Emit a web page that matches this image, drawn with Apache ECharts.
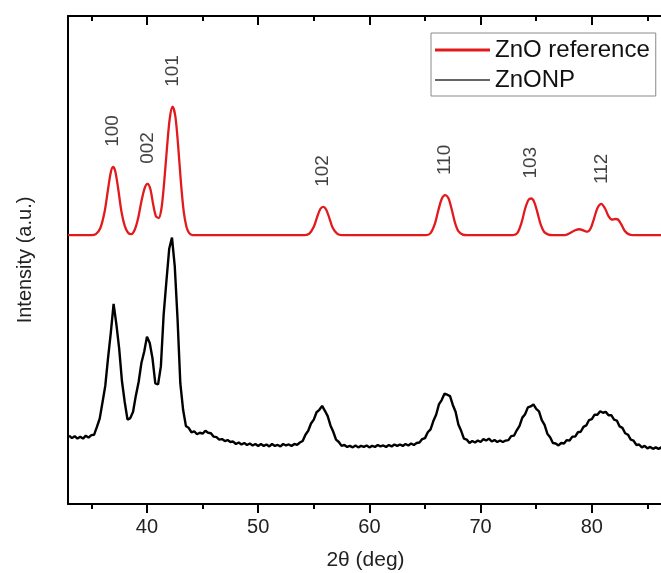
<!DOCTYPE html>
<html>
<head>
<meta charset="utf-8">
<script src="https://cdn.jsdelivr.net/npm/echarts@6/dist/echarts.min.js"></script>
<style>html,body{margin:0;padding:0;background:#fff}#c{width:661px;height:573px}</style>
</head>
<body>
<div id="c"></div>
<script>
// ---- data ----
const seriesNames = ['ZnO reference', 'ZnONP'];
const xMajorTicks = [40, 50, 60, 70, 80];
const xMinorTicks = [35, 45, 55, 65, 75, 85];

// ZnO reference pattern (red), [2θ, intensity]
const znoReference = [
  [32.9,55.1],[35.0,55.1],[35.4,55.3],[35.8,56.5],[36.2,60.0],[36.5,64.5],[36.75,68.0],[36.95,69.1],[37.15,68.2],[37.4,64.8],[37.7,60.0],[38.0,57.0],[38.3,55.6],[38.6,55.3],[38.9,56.2],[39.2,58.5],[39.5,62.0],[39.8,64.8],[40.05,65.6],[40.3,64.6],[40.55,61.5],[40.8,59.0],[41.05,58.6],[41.3,60.5],[41.55,66.0],[41.8,73.0],[42.05,79.0],[42.3,81.4],[42.55,79.5],[42.8,73.5],[43.05,66.0],[43.3,60.0],[43.55,56.8],[43.8,55.5],[44.1,55.1],
  [54.2,55.1],[54.6,55.4],[55.0,56.8],[55.3,58.8],[55.6,60.5],[55.85,60.9],[56.1,60.4],[56.4,58.6],[56.7,56.6],[57.1,55.4],[57.5,55.1],
  [65.1,55.1],[65.5,55.5],[65.9,57.5],[66.2,60.2],[66.5,62.5],[66.8,63.3],[67.1,62.7],[67.4,60.4],[67.7,57.6],[68.0,55.9],[68.4,55.2],[68.8,55.1],
  [72.9,55.1],[73.3,55.5],[73.7,57.8],[74.0,60.5],[74.3,62.3],[74.55,62.6],[74.8,62.0],[75.1,59.8],[75.4,57.3],[75.7,55.8],[76.1,55.2],[76.5,55.1],
  [77.6,55.1],[78.1,55.6],[78.5,56.1],[78.9,56.3],[79.3,56.0],[79.6,55.8],[79.9,56.5],[80.2,58.5],[80.5,60.6],[80.85,61.5],[81.2,60.5],[81.5,59.0],[81.8,58.3],[82.1,58.4],[82.35,58.3],[82.65,57.3],[82.95,56.0],[83.3,55.3],[83.7,55.1],[86.5,55.1]
];

// Measured ZnONP pattern (black), [2θ, intensity]
const znoNP = [
  [33.00,14.0],[33.25,13.5],[33.50,13.9],[33.75,13.4],[34.00,13.8],[34.25,13.4],[34.50,14.0],[34.75,13.6],[35.00,14.1],[35.25,14.2],
  [35.50,15.8],[35.75,17.5],[36.00,20.8],[36.25,24.2],[36.50,29.9],[36.75,35.1],[37.00,41.0],[37.25,36.8],[37.50,31.9],[37.75,25.2],
  [38.00,20.9],[38.25,17.3],[38.50,17.6],[38.75,18.9],[39.00,22.2],[39.25,25.0],[39.50,28.9],[39.75,31.2],[40.00,34.3],[40.25,33.0],
  [40.50,29.8],[40.75,24.7],[41.00,24.5],[41.25,28.2],[41.50,38.8],[41.75,45.7],[42.00,52.3],[42.25,54.6],[42.50,48.7],[42.75,37.9],
  [43.00,24.7],[43.25,19.3],[43.50,16.0],[43.75,15.6],[44.00,14.7],[44.25,14.9],[44.50,14.3],[44.75,14.6],[45.00,14.4],[45.25,15.0],
  [45.50,14.6],[45.75,14.5],[46.00,13.8],[46.25,13.7],[46.50,13.2],[46.75,13.3],[47.00,12.9],[47.25,13.1],[47.50,12.7],[47.75,12.8],
  [48.00,12.3],[48.25,12.6],[48.50,12.2],[48.75,12.5],[49.00,12.1],[49.25,12.4],[49.50,12.0],[49.75,12.3],[50.00,11.9],[50.25,12.3],
  [50.50,11.9],[50.75,12.2],[51.00,11.8],[51.25,12.3],[51.50,11.9],[51.75,12.1],[52.00,11.8],[52.25,12.3],[52.50,12.0],[52.75,12.2],
  [53.00,11.9],[53.25,12.3],[53.50,12.1],[53.75,12.6],[54.00,12.9],[54.25,14.2],[54.50,15.0],[54.75,16.5],[55.00,17.3],[55.25,18.8],
  [55.50,19.3],[55.75,20.1],[56.00,19.1],[56.25,18.0],[56.50,16.1],[56.75,14.8],[57.00,13.2],[57.25,12.7],[57.50,11.9],[57.75,12.1],
  [58.00,11.7],[58.25,11.9],[58.50,11.6],[58.75,12.0],[59.00,11.6],[59.25,11.9],[59.50,11.7],[59.75,12.0],[60.00,11.6],[60.25,11.9],
  [60.50,11.7],[60.75,12.1],[61.00,11.8],[61.25,12.0],[61.50,11.7],[61.75,12.1],[62.00,11.8],[62.25,12.2],[62.50,11.9],[62.75,12.2],
  [63.00,11.9],[63.25,12.3],[63.50,12.0],[63.75,12.4],[64.00,12.1],[64.25,12.5],[64.50,12.6],[64.75,13.3],[65.00,13.5],[65.25,14.7],
  [65.50,15.3],[65.75,17.0],[66.00,18.3],[66.25,20.4],[66.50,21.3],[66.75,22.6],[67.00,22.4],[67.25,22.1],[67.50,20.3],[67.75,18.9],
  [68.00,16.3],[68.25,15.0],[68.50,13.4],[68.75,13.2],[69.00,12.5],[69.25,12.9],[69.50,12.6],[69.75,13.0],[70.00,12.7],[70.25,13.3],
  [70.50,13.0],[70.75,13.4],[71.00,12.8],[71.25,13.1],[71.50,12.7],[71.75,13.0],[72.00,12.7],[72.25,13.0],[72.50,13.1],[72.75,13.9],
  [73.00,14.0],[73.25,15.1],[73.50,16.0],[73.75,17.7],[74.00,18.4],[74.25,19.8],[74.50,20.0],[74.75,20.4],[75.00,19.5],[75.25,19.0],
  [75.50,17.2],[75.75,16.2],[76.00,14.4],[76.25,13.7],[76.50,12.5],[76.75,12.4],[77.00,12.0],[77.25,12.5],[77.50,12.4],[77.75,13.1],
  [78.00,13.0],[78.25,13.8],[78.50,13.8],[78.75,14.7],[79.00,14.8],[79.25,15.8],[79.50,16.1],[79.75,17.2],[80.00,17.4],[80.25,18.3],
  [80.50,18.3],[80.75,19.0],[81.00,18.7],[81.25,18.9],[81.50,18.2],[81.75,18.2],[82.00,17.3],[82.25,17.1],[82.50,15.9],[82.75,15.6],
  [83.00,14.5],[83.25,14.2],[83.50,13.2],[83.75,13.0],[84.00,12.1],[84.25,12.2],[84.50,11.6],[84.75,11.9],[85.00,11.4],[85.25,11.7],
  [85.50,11.3],[85.75,11.6],[86.00,11.3],[86.25,11.6],[86.50,11.4]
];

// Miller-index labels above the reference peaks: [label, 2θ, peak intensity]
const peakLabels = [
  ['100', 36.95, 69.1], ['002', 40.05, 65.6], ['101', 42.3, 81.4],
  ['102', 55.85, 60.9], ['110', 66.8, 63.3], ['103', 74.55, 62.6], ['112', 80.85, 61.5]
];

// ---- chart ----
const FONT = "'Liberation Sans', Arial, Helvetica, sans-serif";
const X_MIN = 32.9, X_MAX = 86.4;
const chart = echarts.init(document.getElementById('c'), null, {renderer: 'canvas'});

function xAx(pos, ticks, len, inside, showLine, showLabel) {
  return {
    type: 'value', gridIndex: 0, position: pos, min: X_MIN, max: X_MAX,
    axisLine: {show: showLine, onZero: false, lineStyle: {color: '#000', width: 2}},
    axisTick: {show: true, customValues: ticks, length: len, inside: inside, lineStyle: {color: '#000', width: 2}},
    axisLabel: showLabel ? {show: true, customValues: ticks, fontSize: 20, color: '#222', fontFamily: FONT, margin: 13} : {show: false},
    splitLine: {show: false}
  };
}

const bottomMajor = xAx('bottom', xMajorTicks, 9, false, true, true);
bottomMajor.name = '2θ (deg)';
bottomMajor.nameLocation = 'middle';
bottomMajor.nameGap = 46;
bottomMajor.nameTextStyle = {fontSize: 21, color: '#222', fontFamily: FONT};

// legend glyphs: a plain horizontal stroke (corner points fix the 55x14 box)
const ICON_RED = 'path://M0,0L0,0ZM55,14L55,14ZM0,5.5L55,5.5L55,8.5L0,8.5Z';
const ICON_BLACK = 'path://M0,0L0,0ZM55,14L55,14ZM0,6.2L55,6.2L55,7.8L0,7.8Z';

const option = {
  animation: false,
  backgroundColor: '#fff',
  grid: {left: 68, right: -2, top: 16, bottom: 69, containLabel: false, outerBoundsMode: 'none'},
  xAxis: [
    bottomMajor,
    xAx('bottom', xMinorTicks, 5, false, false, false),
    xAx('top', xMajorTicks, 9, true, true, false),
    xAx('top', xMinorTicks, 5, true, false, false)
  ],
  yAxis: {
    type: 'value', min: 0, max: 100, position: 'left',
    axisLine: {show: true, onZero: false, lineStyle: {color: '#000', width: 2}},
    axisTick: {show: false}, axisLabel: {show: false}, splitLine: {show: false},
    name: 'Intensity (a.u.)', nameLocation: 'middle', nameGap: 33,
    nameTextStyle: {fontSize: 20, color: '#222', fontFamily: FONT}
  },
  legend: {
    orient: 'vertical', left: 431, top: 33,
    itemWidth: 55, itemHeight: 14, itemGap: 6,
    padding: [5, 6, 4, 4],
    borderColor: '#8a8a8a', borderWidth: 1, backgroundColor: '#fff',
    textStyle: {fontSize: 24, color: '#111', fontFamily: FONT, lineHeight: 24},
    data: [
      {name: seriesNames[0], icon: ICON_RED, itemStyle: {color: '#e31a1c'}},
      {name: seriesNames[1], icon: ICON_BLACK, itemStyle: {color: '#333'}}
    ]
  },
  series: [
    {
      name: seriesNames[0], type: 'line', xAxisIndex: 0, yAxisIndex: 0,
      data: znoReference, symbol: 'none', smooth: 0.3,
      lineStyle: {color: '#e31a1c', width: 2.3}, itemStyle: {color: '#e31a1c'}, z: 2
    },
    {
      name: seriesNames[1], type: 'line', xAxisIndex: 0, yAxisIndex: 0,
      data: znoNP, symbol: 'none',
      lineStyle: {color: '#000', width: 2.4}, itemStyle: {color: '#000'}, z: 3
    },
    {
      name: 'labels', type: 'scatter', xAxisIndex: 0, yAxisIndex: 0,
      data: peakLabels.map(p => ({name: p[0], value: [p[1], p[2]]})),
      symbolSize: 0, silent: true,
      label: {
        show: true, position: 'top', distance: 20, rotate: 90,
        align: 'left', verticalAlign: 'middle',
        formatter: p => p.name, fontSize: 19, color: '#111', fontFamily: FONT
      }
    }
  ]
};
chart.setOption(option);
</script>
</body>
</html>
